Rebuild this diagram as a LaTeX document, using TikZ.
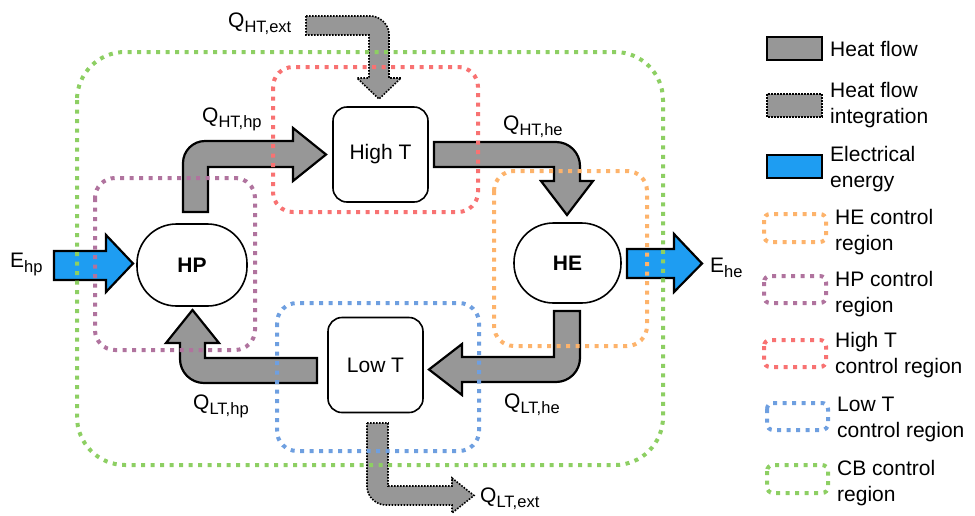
\documentclass[tikz,border=0pt]{standalone}
\usepackage{fontspec}
\setmainfont{Liberation Sans}
\definecolor{cbgreen}{RGB}{141,207,99}
\definecolor{htred}{RGB}{248,114,114}
\definecolor{hppurple}{RGB}{176,115,158}
\definecolor{heorange}{RGB}{253,179,107}
\definecolor{ltblue}{RGB}{110,159,224}
\definecolor{heatgray}{RGB}{151,151,151}
\definecolor{elecblue}{RGB}{30,157,242}
\newcommand{\Qlab}[2]{#1\raisebox{-5pt}{\fontsize{16.5}{16.5}\selectfont #2}}
\newcommand{\mainsize}{\fontsize{21}{26}\selectfont}
\tikzset{
  region/.style={line width=4pt, dash pattern=on 4pt off 5.5pt, rounded corners=#1},
  heat/.style={fill=heatgray, draw=black, line width=2.2pt, line join=miter},
  heatint/.style={fill=heatgray, draw=black, line width=1.6pt, dash pattern=on 1.6pt off 1.4pt},
  elec/.style={fill=elecblue, draw=black, line width=2.2pt, line join=miter},
  tbox/.style={draw, fill=white, line width=1.6pt, rounded corners=14pt, minimum width=95pt, minimum height=95pt, inner sep=0pt},
  pbox/.style={draw, fill=white, line width=1.6pt, rounded corners=39.5pt, minimum width=108pt, minimum height=81pt, inner sep=0pt, font=\mainsize\bfseries},
  lab/.style={anchor=base west, inner sep=0pt},
  legtext/.style={anchor=base west, inner sep=0pt, align=left}
}
\begin{document}
\begin{tikzpicture}[x=1pt, y=-1pt, font=\mainsize]
\useasboundingbox (0,0) rectangle (975,515);

% nodes
\node[tbox] (HT) at (380.5,154.5) {High T};
\node[tbox] (LT) at (375.5,365) {Low T};
\node[pbox, minimum width=110pt, minimum height=82pt] (HP) at (192,265) {HP};
\node[pbox, minimum width=107pt, minimum height=80pt] (HE) at (567.5,263) {HE};

% heat flow arrows
\draw[heat] (183,212) -- (183,163) .. controls (183,150.9) and (192.9,141) .. (205,141)
  -- (293,141) -- (293,128) -- (326,154.5) -- (293,181) -- (293,167) -- (208,167) -- (208,212) -- cycle;
\draw[heat] (434,142) -- (556,142) .. controls (569.25,142) and (580,152.75) .. (580,166)
  -- (580,181) -- (593,181) -- (567,215) -- (541,181) -- (554,181) -- (554,167) -- (434,167) -- cycle;
\draw[heat] (554,311) -- (580,311) -- (580,358) .. controls (580,371.25) and (569.25,382) .. (556,382)
  -- (462,382) -- (462,395) -- (429,369.5) -- (462,344) -- (462,357) -- (554,357) -- cycle;
\draw[heat] (317,358) -- (317,383) -- (204,383) .. controls (190.75,383) and (180,372.25) .. (180,359)
  -- (180,343) -- (166,343) -- (192.5,310) -- (219,343) -- (205,343) -- (205,358) -- cycle;

% heat flow integration arrows
\draw[heatint] (306,16) -- (371,16) .. controls (379,16) and (389,24) .. (389,34)
  -- (389,78) -- (401,78) -- (379,99) -- (357,78) -- (369,78) -- (369,35) -- (306,35) -- cycle;
\draw[heatint] (367,423) -- (388,423) -- (388,486) -- (452,486) -- (452,478) -- (474,495.5)
  -- (452,513) -- (452,505) -- (385,505) .. controls (377,505) and (367,497) .. (367,487) -- cycle;

% electrical arrows
\draw[elec] (54,251) -- (106,251) -- (106,235) -- (133,263.5) -- (106,292) -- (106,280) -- (54,280) -- cycle;
\draw[elec] (627,249) -- (674,249) -- (674,234) -- (702,263.5) -- (674,292) -- (674,278) -- (627,278) -- cycle;

% labels
\node[lab] (qhtext) at (228,27) {\Qlab{Q}{HT,ext}};
\node[lab] (qhthp) at (202,122) {\Qlab{Q}{HT,hp}};
\node[lab] (qhthe) at (503,130) {\Qlab{Q}{HT,he}};
\node[lab] (qlthe) at (504,408) {\Qlab{Q}{LT,he}};
\node[lab] (qlthp) at (193,409) {\Qlab{Q}{LT,hp}};
\node[lab] (qltext) at (480,502) {\Qlab{Q}{LT,ext}};
\node[lab] (ehp) at (10,267) {\Qlab{E}{hp}};
\node[lab] (ehe) at (710,272) {\Qlab{E}{he}};

% control regions
\draw[region=48pt, cbgreen] (77,52) rectangle (663,465);
\draw[region=20pt, htred] (273,67) rectangle (478,212);
\draw[region=20pt, hppurple] (95,178) rectangle (255,350);
\draw[region=20pt, heorange] (494,171) rectangle (647,346);
\draw[region=20pt, ltblue] (277,303) rectangle (479,451);

% legend (base anchor = baseline of the last line)
\draw[heat, line width=2.6pt] (767,37) rectangle (822,60);
\node[legtext] (l1) at (830,56) {Heat flow};
\draw[heatint] (767,94) rectangle (822,117);
\node[legtext] (l2) at (830,123) {Heat flow\\integration};
\draw[elec, line width=2.6pt] (767,155) rectangle (822,178);
\node[legtext] (l3) at (830,187) {Electrical\\energy};
\draw[region=6pt, heorange] (764,214) rectangle (826,242);
\node[legtext] (l4) at (835,250) {HE control\\region};
\draw[region=6pt, hppurple] (764,276) rectangle (826,303);
\node[legtext] (l5) at (835,312) {HP control\\region};
\draw[region=6pt, htred] (764,340) rectangle (826,367);
\node[legtext] (l6) at (835,373) {High T\\control region};
\draw[region=6pt, ltblue] (767,403) rectangle (828,430);
\node[legtext] (l7) at (837,437) {Low T\\control region};
\draw[region=6pt, cbgreen] (767,465) rectangle (828,493);
\node[legtext] (l8) at (837,501) {CB control\\region};
\end{tikzpicture}
\end{document}
